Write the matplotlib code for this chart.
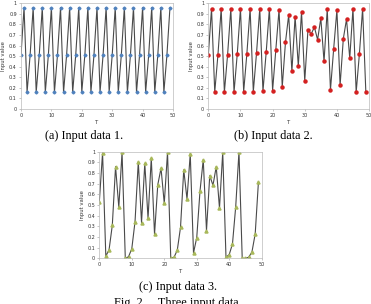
import matplotlib
matplotlib.use("Agg")
import matplotlib.pyplot as plt

# input series, T = 0..49
t = list(range(50))
data1 = [0.51, 0.96, 0.16] * 16 + [0.51, 0.96]
data2 = [0.51, 0.95, 0.16, 0.515, 0.95, 0.16, 0.515, 0.95, 0.16, 0.52,
         0.95, 0.165, 0.525, 0.95, 0.165, 0.53, 0.95, 0.17, 0.535, 0.95,
         0.175, 0.56, 0.94, 0.21, 0.63, 0.89, 0.355, 0.875, 0.405, 0.92,
         0.265, 0.75, 0.71, 0.775, 0.655, 0.86, 0.45, 0.945, 0.18, 0.57,
         0.935, 0.225, 0.665, 0.85, 0.48, 0.95, 0.16, 0.52, 0.95, 0.165]
data3 = [0.53, 0.99, 0.02, 0.08, 0.31, 0.86, 0.48, 0.995, 0.0, 0.015,
         0.09, 0.345, 0.905, 0.335, 0.89, 0.375, 0.94, 0.225, 0.69, 0.845,
         0.515, 0.995, 0.0, 0.01, 0.075, 0.29, 0.83, 0.555, 0.98, 0.05,
         0.195, 0.63, 0.925, 0.26, 0.775, 0.685, 0.86, 0.47, 0.995, 0.01,
         0.035, 0.135, 0.485, 1.0, 0.0, 0.0, 0.01, 0.06, 0.23, 0.72]
captions = ["(a) Input data 1.", "(b) Input data 2.", "(c) Input data 3."]
fig_caption = "Fig. 2.    Three input data."

fig = plt.figure(figsize=(3.71, 3.04), dpi=100)

def panel(rect, y, marker, color, msize):
    ax = fig.add_axes(rect)
    ax.plot(t, y, color="#4a4a4a", lw=0.8, zorder=1)
    ax.plot(t, y, ls="none", marker=marker, ms=msize, color=color,
            mec=color, zorder=2)
    ax.set_xlim(0, 50)
    ax.set_ylim(0, 1)
    ax.set_xticks([0, 10, 20, 30, 40, 50])
    ax.set_yticks([i / 10 for i in range(11)])
    ax.set_yticklabels(["0"] + [f"{i/10:g}" for i in range(1, 10)] + ["1"])
    ax.tick_params(labelsize=3.5, length=1.5, width=0.4, color="#999999",
                   pad=1.5, labelcolor="#333333")
    for s in ax.spines.values():
        s.set_color("#bbbbbb")
        s.set_linewidth(0.5)
    ax.set_xlabel("T", fontsize=3.8, labelpad=1, color="#333333")
    ax.set_ylabel("Input value", fontsize=3.8, labelpad=2, color="#333333")
    return ax

panel([0.0566, 0.6414, 0.4097, 0.3477], data1, "D", "#4f81bd", 1.5)
panel([0.5615, 0.6414, 0.4332, 0.3477], data2, "o", "#d42020", 2.2)
panel([0.2677, 0.1503, 0.4377, 0.3507], data3, "^", "#a8b85a", 2.2)

serif = "Liberation Serif"
fig.text(84 / 371, 1 - 136 / 304, captions[0], ha="center", va="center",
         fontsize=8.8, family=serif)
fig.text(273 / 371, 1 - 136 / 304, captions[1], ha="center", va="center",
         fontsize=8.8, family=serif)
fig.text(178 / 371, 1 - 287 / 304, captions[2], ha="center", va="center",
         fontsize=8.8, family=serif)
fig.text(178 / 371, 1 - 303 / 304, fig_caption, ha="center", va="center",
         fontsize=8.8, family=serif)

fig.savefig("out.png", dpi=100)
